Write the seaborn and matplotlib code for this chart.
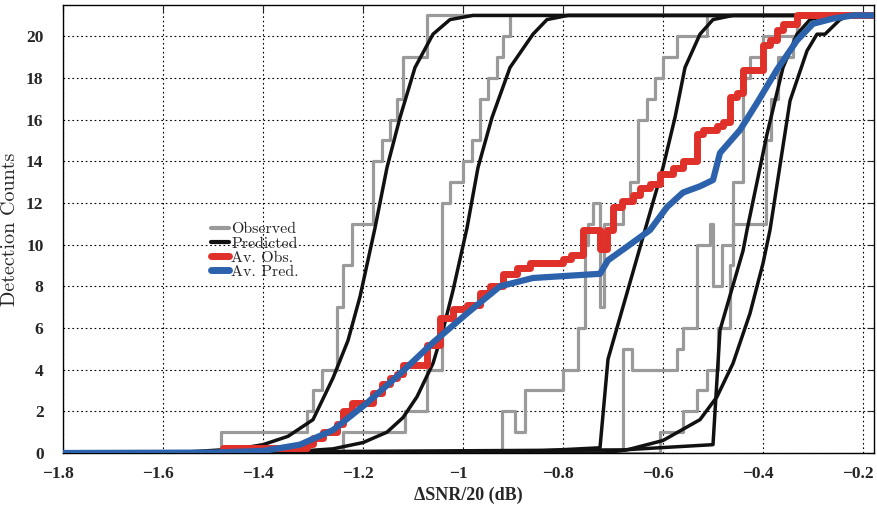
import numpy as np
import matplotlib
matplotlib.use("Agg")
import matplotlib.pyplot as plt
import matplotlib.transforms as mtransforms
from matplotlib.lines import Line2D
import seaborn as sns

# observed detection counts (step curves), x = start of each new level
obs1_x = [-1.80, -1.484, -1.312, -1.30, -1.282, -1.252, -1.24, -1.222, -1.18, -1.162, -1.146, -1.132, -1.12, -1.072, -0.18]
obs1_y = [0, 1, 2, 3, 4, 7, 9, 11, 14, 15, 16, 17, 19, 21, 21]
obs2_x = [-1.80, -1.24, -1.116, -1.072, -1.042, -1.026, -1.0, -0.982, -0.966, -0.95, -0.932, -0.92, -0.906, -0.18]
obs2_y = [0, 1, 2, 4, 12, 13, 14, 15, 17, 18, 19, 20, 21, 21]
obs3_x = [-1.80, -0.922, -0.896, -0.876, -0.80, -0.77, -0.756, -0.75, -0.74, -0.726, -0.718, -0.68, -0.666, -0.65, -0.632, -0.616, -0.60, -0.572, -0.512, -0.18]
obs3_y = [0, 2, 1, 3, 4, 6, 10, 11, 12, 7, 11, 12, 13, 16, 17, 18, 19, 20, 21, 21]
obs4_x = [-1.80, -0.606, -0.56, -0.532, -0.512, -0.49, -0.466, -0.46, -0.44, -0.426, -0.40, -0.332, -0.18]
obs4_y = [0, 1, 2, 3, 4, 6, 9, 13, 18, 19, 20, 21, 21]
obs5_x = [-1.80, -0.68, -0.662, -0.572, -0.56, -0.532, -0.506, -0.50, -0.482, -0.46, -0.394, -0.384, -0.37, -0.34, -0.332, -0.18]
obs5_y = [0, 5, 4, 5, 6, 10, 11, 8, 10, 11, 15, 17, 19, 20, 21, 21]

# predicted detection counts
pred1_x = [-1.80, -1.55, -1.45, -1.40, -1.35, -1.30, -1.26, -1.23, -1.206, -1.176, -1.152, -1.126, -1.096, -1.06, -1.026, -0.98, -0.18]
pred1_y = [0.0, 0.05, 0.2, 0.4, 0.8, 1.6, 3.6, 5.4, 7.5, 10.8, 13.7, 16.1, 18.5, 20.1, 20.8, 21.0, 21.0]
pred2_x = [-1.80, -1.35, -1.26, -1.20, -1.152, -1.12, -1.092, -1.06, -1.04, -1.02, -0.992, -0.97, -0.942, -0.906, -0.86, -0.832, -0.79, -0.18]
pred2_y = [0.0, 0.05, 0.2, 0.5, 1.0, 1.7, 2.7, 4.3, 5.9, 7.8, 10.8, 13.7, 16.1, 18.5, 20.1, 20.8, 21.0, 21.0]
pred3_x = [-1.80, -1.0, -0.85, -0.726, -0.71, -0.636, -0.60, -0.576, -0.556, -0.526, -0.50, -0.46, -0.18]
pred3_y = [0.0, 0.0, 0.1, 0.25, 4.5, 10.7, 13.7, 16.1, 18.5, 20.1, 20.8, 21.0, 21.0]
pred4_x = [-1.80, -0.68, -0.50, -0.486, -0.44, -0.432, -0.392, -0.36, -0.332, -0.306, -0.27, -0.18]
pred4_y = [0.0, 0.15, 0.4, 5.9, 9.7, 10.7, 15.3, 18.5, 20.1, 20.8, 21.0, 21.0]
pred5_x = [-1.80, -0.72, -0.672, -0.60, -0.526, -0.492, -0.46, -0.426, -0.40, -0.386, -0.346, -0.312, -0.292, -0.276, -0.246, -0.226, -0.18]
pred5_y = [0.0, 0.0, 0.15, 0.6, 1.6, 2.7, 4.3, 6.7, 9.1, 10.7, 16.9, 19.3, 20.1, 20.1, 20.8, 21.0, 21.0]

# averages
avobs_x = [-1.80, -1.48, -1.312, -1.30, -1.28, -1.252, -1.24, -1.222, -1.18, -1.162, -1.146, -1.132, -1.12,
           -1.072, -1.046, -1.02, -0.992, -0.966, -0.946, -0.92, -0.892, -0.866, -0.80, -0.784, -0.76,
           -0.726, -0.712, -0.70, -0.682, -0.66, -0.646, -0.626, -0.606, -0.58, -0.56, -0.532, -0.52,
           -0.492, -0.48, -0.466, -0.452, -0.44, -0.40, -0.386, -0.372, -0.36, -0.332, -0.18]
avobs_y = [0.0, 0.25, 0.45, 0.7, 1.0, 1.4, 2.0, 2.4, 2.9, 3.3, 3.6, 3.8, 4.2,
           5.2, 6.5, 6.9, 7.1, 7.7, 8.0, 8.6, 8.9, 9.1, 9.3, 9.5, 10.7,
           9.8, 10.7, 11.8, 12.1, 12.4, 12.7, 12.9, 13.4, 13.7, 14.0, 15.3, 15.5,
           15.7, 15.9, 17.1, 17.3, 18.4, 19.6, 19.8, 20.3, 20.6, 21.0, 21.0]
avpred_x = [-1.80, -1.50, -1.40, -1.326, -1.26, -1.192, -1.126, -1.06, -0.992, -0.926, -0.86, -0.826, -0.726,
            -0.71, -0.672, -0.626, -0.592, -0.56, -0.526, -0.50, -0.486, -0.446, -0.412, -0.372, -0.332,
            -0.30, -0.26, -0.22, -0.18]
avpred_y = [0.0, 0.02, 0.1, 0.4, 1.1, 2.4, 3.8, 5.3, 6.7, 8.0, 8.4, 8.45, 8.6,
            9.25, 9.9, 10.7, 11.8, 12.5, 12.8, 13.1, 14.4, 15.5, 16.8, 18.4, 19.8,
            20.6, 20.85, 21.0, 21.0]

xticks = [-1.8, -1.6, -1.4, -1.2, -1.0, -0.8, -0.6, -0.4, -0.2]
xtick_labels = ["\u22121.8", "\u22121.6", "\u22121.4", "\u22121.2", "\u22121", "\u22120.8", "\u22120.6", "\u22120.4", "\u22120.2"]
yticks = [0, 2, 4, 6, 8, 10, 12, 14, 16, 18, 20]

GRAY = "#9a9a9a"
BLACK = "#111111"
RED = "#e0302a"
BLUE = "#2c62ac"

sns.set_style("white")
fig = plt.figure(figsize=(8.78, 5.09), dpi=100)
ax = fig.add_axes([63 / 878, 1 - 453 / 509, 811 / 878, 448 / 509])

for xs, ys in [(obs1_x, obs1_y), (obs2_x, obs2_y), (obs3_x, obs3_y), (obs4_x, obs4_y), (obs5_x, obs5_y)]:
    sns.lineplot(x=xs, y=ys, ax=ax, color=GRAY, lw=2.3, drawstyle="steps-post",
                 estimator=None, sort=False, zorder=2)
for xs, ys in [(pred1_x, pred1_y), (pred2_x, pred2_y), (pred3_x, pred3_y), (pred4_x, pred4_y), (pred5_x, pred5_y)]:
    sns.lineplot(x=xs, y=ys, ax=ax, color=BLACK, lw=2.5, estimator=None, sort=False, zorder=3)
sns.lineplot(x=avobs_x, y=avobs_y, ax=ax, color=RED, lw=5, drawstyle="steps-post",
             estimator=None, sort=False, zorder=4)
sns.lineplot(x=avpred_x, y=avpred_y, ax=ax, color=BLUE, lw=4.5, estimator=None, sort=False, zorder=5)

ax.set_xlim(-1.8, -0.178)
ax.set_ylim(0, 21.5)
ax.set_xticks(xticks)
ax.set_xticklabels(xtick_labels)
ax.set_yticks(yticks)
ax.grid(True, color="black", linestyle=(0, (1.5, 2.5)), lw=0.8)
ax.set_axisbelow(True)
for s in ax.spines.values():
    s.set_color("black")
    s.set_linewidth(1.0)
ax.tick_params(direction="in", top=True, right=True, length=5, width=0.8)
ax.tick_params(axis="x", pad=9)
ax.tick_params(axis="y", pad=14)
shift = mtransforms.ScaledTranslation(-5 / 100, 0, fig.dpi_scale_trans)
for lab in ax.get_xticklabels():
    lab.set_transform(lab.get_transform() + shift)
for lab in ax.get_xticklabels() + ax.get_yticklabels():
    lab.set_fontfamily("Liberation Serif")
    lab.set_fontweight("bold")
    lab.set_fontsize(12.5)

ax.set_xlabel("\u0394SNR/20 (dB)", fontfamily="Liberation Serif", fontweight="bold", fontsize=13, labelpad=4)
ax.set_ylabel("Detection Counts", fontfamily="cmr10", fontsize=14.5, labelpad=5)

handles = [Line2D([], [], color=GRAY, lw=3),
           Line2D([], [], color=BLACK, lw=3),
           Line2D([], [], color=RED, lw=5),
           Line2D([], [], color=BLUE, lw=5)]
ax.legend(handles, ["Observed", "Predicted", "Av. Obs.", "Av. Pred."],
          loc="center left", bbox_to_anchor=(0.183, 0.452), frameon=False,
          prop={"family": "cmr10", "size": 11.5}, handlelength=1.1, handletextpad=0.15,
          labelspacing=0.0, borderpad=0, borderaxespad=0)

fig.savefig("out.png", dpi=100)
